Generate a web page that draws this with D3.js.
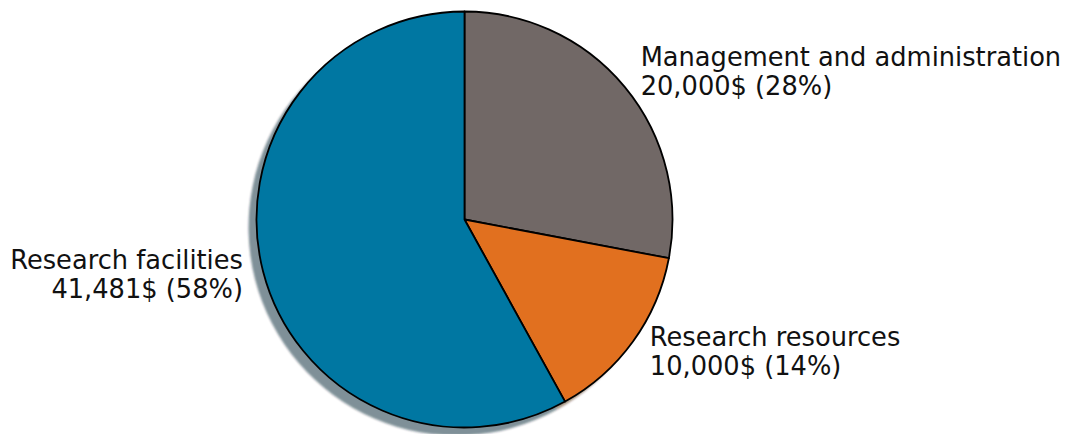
<!DOCTYPE html>
<html>
<head>
<meta charset="utf-8">
<script src="https://cdn.jsdelivr.net/npm/d3@7"></script>
<style>
  body { margin: 0; background: #fff; }
  text { font-family: "DejaVu Sans", sans-serif; fill: #111; }
</style>
</head>
<body>
<script>
// data, in drawing order clockwise from the top
var categories = ['Management and administration', 'Research resources', 'Research facilities'];
var amounts = [20000, 10000, 41481];
var colors = ['#716866', '#e1701f', '#0077a2'];

var width = 1072,
    height = 434;

var cx = 464.5, cy = 219.5, radius = 208;

var total = d3.sum(amounts);
var fmt = d3.format(',');

var svg = d3.select('body')
    .append('svg')
    .attr('width', width)
    .attr('height', height);

var defs = svg.append('defs');
defs.append('filter')
    .attr('id', 'blur')
    .append('feGaussianBlur')
    .attr('stdDeviation', 1);

var pie = d3.pie()
    .sort(null)
    .value(function(d) { return d; });

var arcs = pie(amounts);

var arc = d3.arc()
    .innerRadius(0)
    .outerRadius(radius);

// shadows first (matplotlib style: darker colour, half transparent)
var shadow = svg.append('g')
    .attr('transform', 'translate(' + (cx - 8) + ',' + (cy + 8) + ')')
    .attr('filter', 'url(#blur)');

shadow.selectAll('path')
    .data(arcs)
    .enter().append('path')
    .attr('d', arc)
    .attr('fill', function(d, i) {
        var c = d3.rgb(colors[i]);
        return d3.rgb(c.r * 0.3, c.g * 0.3, c.b * 0.3).toString();
    })
    .attr('fill-opacity', 0.5);

var g = svg.append('g')
    .attr('transform', 'translate(' + cx + ',' + cy + ')');

g.selectAll('path')
    .data(arcs)
    .enter().append('path')
    .attr('d', arc)
    .attr('fill', function(d, i) { return colors[i]; })
    .attr('stroke', '#000')
    .attr('stroke-width', 1.8)
    .attr('stroke-linejoin', 'round');

// labels at 1.1 * radius along the wedge middle
var labels = g.selectAll('text.lbl')
    .data(arcs)
    .enter().append('text')
    .attr('class', 'lbl')
    .style('font-size', '25.7px')
    .attr('text-anchor', function(d) {
        var mid = (d.startAngle + d.endAngle) / 2;
        return Math.sin(mid) > 0 ? 'start' : 'end';
    })
    .each(function(d, i) {
        var mid = (d.startAngle + d.endAngle) / 2;
        var x = 1.1 * radius * Math.sin(mid),
            y = -1.1 * radius * Math.cos(mid);
        var t = d3.select(this);
        t.append('tspan')
            .attr('x', x)
            .attr('y', y - 8)
            .text(categories[i]);
        t.append('tspan')
            .attr('x', x)
            .attr('y', y + 21)
            .text(fmt(amounts[i]) + '$ (' + Math.round(amounts[i] / total * 100) + '%)');
    });
</script>
</body>
</html>
